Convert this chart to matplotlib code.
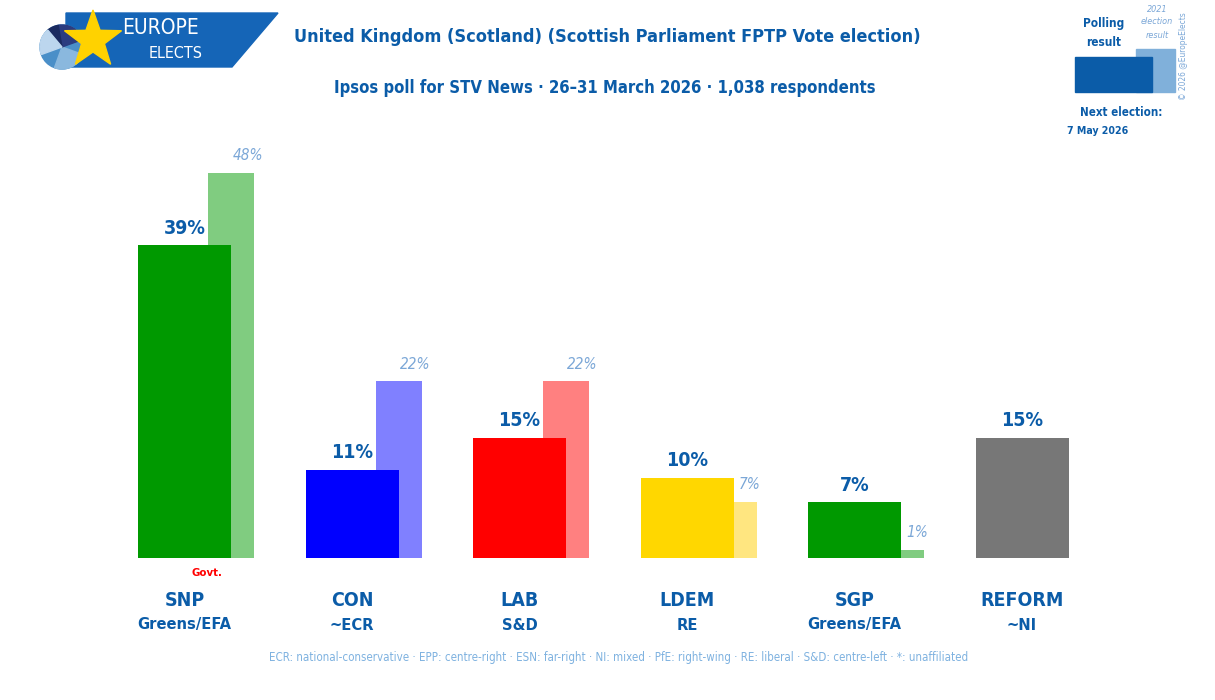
import matplotlib
matplotlib.use("Agg")
import matplotlib.pyplot as plt
from matplotlib.patches import Polygon, Rectangle, Wedge, Circle
import numpy as np

parties = ["SNP", "CON", "LAB", "LDEM", "SGP", "REFORM"]
groups = ["Greens/EFA", "~ECR", "S&D", "RE", "Greens/EFA", "~NI"]
poll = [39, 11, 15, 10, 7, 15]
prev = [48, 22, 22, 7, 1, None]
colors = ["#009900", "#0000FF", "#FF0000", "#FFD700", "#009900", "#777777"]
prev_colors = ["#80CC80", "#8080FF", "#FF8080", "#FFE680", "#80CC80", None]

title = "United Kingdom (Scotland) (Scottish Parliament FPTP Vote election)"
subtitle = "Ipsos poll for STV News · 26–31 March 2026 · 1,038 respondents"
footer = ("ECR: national-conservative · EPP: centre-right · ESN: far-right · NI: mixed · "
          "PfE: right-wing · RE: liberal · S&D: centre-left · *: unaffiliated")

plt.rcParams['font.family'] = ["DejaVu Sans"]
plt.rcParams['font.stretch'] = "condensed"
DARK = "#0B5CA8"
LIGHT = "#7BA7D7"

W, H = 1215, 700
fig = plt.figure(figsize=(W / 100, H / 100), dpi=100)

ov = fig.add_axes([0, 0, 1, 1])
ov.set_xlim(0, W)
ov.set_ylim(H, 0)
ov.axis("off")

step = 167.5
c0 = 184.5
base_px = 558
top_px = 150
ppp = 8.03
bx = fig.add_axes([0, (H - base_px) / H, 1, (base_px - top_px) / H])
bx.set_xlim(-c0 / step, (W - c0) / step)
bx.set_ylim(0, (base_px - top_px) / ppp)
bx.axis("off")

bw = 93 / step
pw = 23 / step
poff = 23.5 / step
for i in range(len(parties)):
    if prev[i] is not None:
        left = i + poff
        right = i + bw / 2 + pw
        bx.bar(left, prev[i], width=right - left, align="edge", color=prev_colors[i], zorder=1)
        bx.text(i + bw / 2 + pw / 2 + 0.03, prev[i] + 1.2, f"{prev[i]}%", ha="center", va="bottom",
                color=LIGHT, fontsize=11, style="italic", zorder=3)
    bx.bar(i, poll[i], width=bw, color=colors[i], zorder=2)
    bx.text(i, poll[i] + 0.9, f"{poll[i]}%", ha="center", va="bottom", color=DARK,
            fontsize=14, fontweight="bold", zorder=3)

for i in range(len(parties)):
    x = c0 + step * i
    ov.text(x, 601, parties[i], ha="center", va="center", color=DARK, fontsize=14, fontweight="bold")
    ov.text(x, 625, groups[i], ha="center", va="center", color=DARK, fontsize=11.8, fontweight="bold")
ov.text(207, 573, "Govt.", ha="center", va="center", color="#FF0000", fontsize=8.2, fontweight="bold")

ov.text(607, 37, title, ha="center", va="center", color=DARK, fontsize=13, fontweight="bold")
ov.text(605, 88, subtitle, ha="center", va="center", color=DARK, fontsize=12, fontweight="bold")
ov.text(619, 657, footer, ha="center", va="center", color="#7FB2E0", fontsize=8.3)

# logo
ov.add_patch(Polygon([(66, 13), (278, 13), (232, 67), (66, 67)], closed=True, color="#1565B7", zorder=2))
ov.add_patch(Circle((62, 47), 22, color="#4A8FC8", zorder=3))
ov.add_patch(Wedge((62, 47), 22, 20, 110, color="#8AB8DE", zorder=3))
ov.add_patch(Wedge((62, 47), 22, -100, -20, color="#2B3C80", zorder=3))
ov.add_patch(Wedge((62, 47), 22, -130, -100, color="#1A2A60", zorder=3))
ov.add_patch(Wedge((62, 47), 22, 160, 230, color="#BCD6EE", zorder=3))
ang = np.deg2rad(np.arange(0, 360, 36) - 90)
rad = np.array([30 if k % 2 == 0 else 12 for k in range(10)])
sx = 93 + rad * np.cos(ang)
sy = 40 + rad * np.sin(ang)
ov.add_patch(Polygon(np.column_stack([sx, sy]), closed=True, color="#FFD200", zorder=4))
ov.text(160, 28, "EUROPE", ha="center", va="center", color="white", fontsize=15, zorder=5)
ov.text(176, 53, "ELECTS", ha="center", va="center", color="white", fontsize=11.5, zorder=5)

# legend box top right
ov.add_patch(Rectangle((1136, 49), 39, 43, color="#80B0DA", zorder=2))
ov.add_patch(Rectangle((1075, 57), 77, 35, color="#0B5CA8", zorder=3))
ov.text(1104, 23, "Polling", ha="center", va="center", color=DARK, fontsize=8.5, fontweight="bold")
ov.text(1104, 42, "result", ha="center", va="center", color=DARK, fontsize=8.5, fontweight="bold")
ov.text(1157, 9, "2021", ha="center", va="center", color=LIGHT, fontsize=6.5, style="italic")
ov.text(1157, 22, "election", ha="center", va="center", color=LIGHT, fontsize=6.5, style="italic")
ov.text(1157, 36, "result", ha="center", va="center", color=LIGHT, fontsize=6.5, style="italic")
ov.text(1121, 112, "Next election:", ha="center", va="center", color=DARK, fontsize=8.3, fontweight="bold")
ov.text(1098, 131, "7 May 2026", ha="center", va="center", color=DARK, fontsize=7.6, fontweight="bold")
ov.text(1184, 56, "© 2026 @EuropeElects", ha="center", va="center", color=LIGHT, fontsize=6,
        rotation=90)

fig.savefig("out.png", dpi=100)
